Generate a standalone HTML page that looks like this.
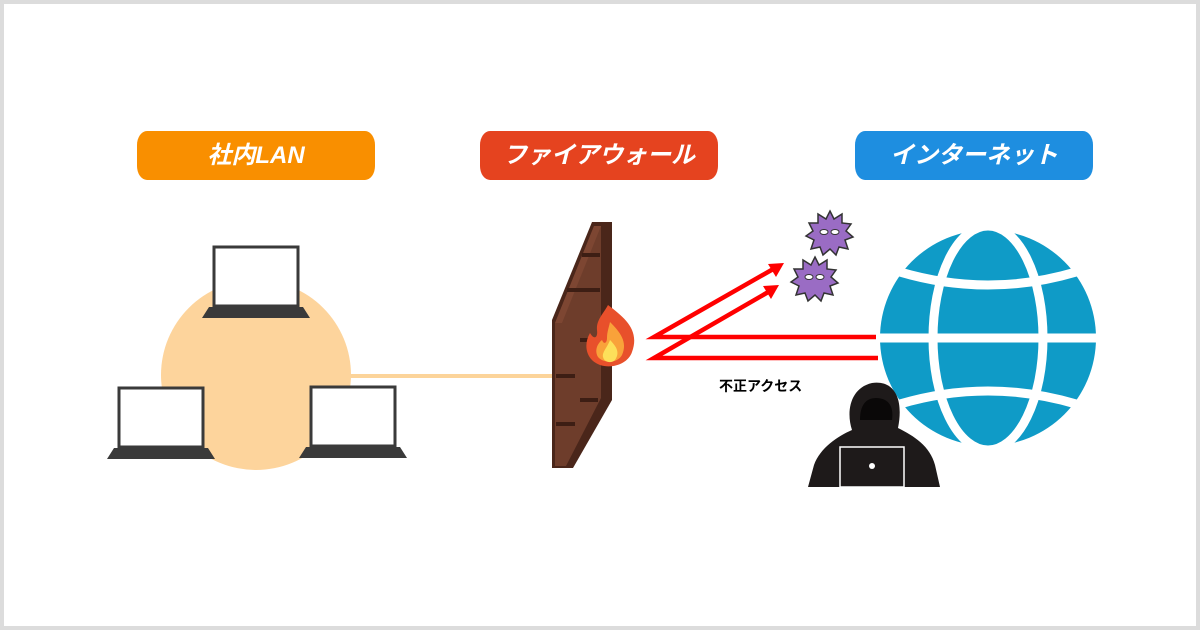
<!DOCTYPE html>
<html><head><meta charset="utf-8"><style>
html,body{margin:0;padding:0;background:#fff}
.wrap{position:relative;width:1200px;height:630px;box-sizing:border-box;border:4px solid #dcdcdc;background:#fff;overflow:hidden}
.pill{position:absolute;top:127px;height:49px;width:238px;border-radius:10px/14px;color:#fff;font:italic bold 24px "Liberation Sans","Noto Sans CJK JP",sans-serif;text-align:center;line-height:49px}
svg{position:absolute;left:-4px;top:-4px}
</style></head><body><div class="wrap">
<svg width="1200" height="630" viewBox="0 0 1200 630">
<line x1="350" y1="376" x2="552" y2="376" stroke="#fcd49a" stroke-width="4"/>
<circle cx="256" cy="375" r="95" fill="#fdd49c"/>
<rect x="214" y="247" width="84" height="59" fill="#fff" stroke="#3a3a3a" stroke-width="3"/>
<polygon points="209,307 303,307 310,318 202,318" fill="#3a3a3a"/>
<rect x="119" y="388" width="84" height="59" fill="#fff" stroke="#3a3a3a" stroke-width="3"/>
<polygon points="114,448 208,448 215,459 107,459" fill="#3a3a3a"/>
<rect x="311" y="387" width="84" height="59" fill="#fff" stroke="#3a3a3a" stroke-width="3"/>
<polygon points="306,447 400,447 407,458 299,458" fill="#3a3a3a"/>
<!-- wall -->
<polygon points="552,320 592,222 612,222 612,400 573,468 552,468" fill="#4a261a"/>
<polygon points="555,323 594,226 601,226 601,398 566,466 555,466" fill="#6e3d2b"/>
<polygon points="555,323 594,226 601,226 562,323" fill="#7d4632"/>
<g stroke="#3d1e14" stroke-width="4">
<line x1="582" y1="255" x2="600" y2="255"/><line x1="567" y1="290" x2="600" y2="290"/>
<line x1="556" y1="376" x2="575" y2="376"/><line x1="556" y1="424" x2="575" y2="424"/>
<line x1="580" y1="340" x2="600" y2="340"/><line x1="580" y1="400" x2="598" y2="400"/>
</g>
<!-- fire -->
<path d="M608,305 C625,318 640,330 632,352 C628,364 612,369 600,365 C586,360 583,345 590,333 C594,340 598,338 597,330 C596,320 604,313 608,305Z" fill="#e8502b"/>
<path d="M610,322 C620,332 628,342 622,355 C618,363 604,364 598,357 C594,350 598,343 602,340 C604,345 607,343 607,338 C607,332 609,327 610,322Z" fill="#f9a23a"/>
<path d="M610,340 C617,347 620,353 615,360 C611,364 604,362 603,357 C602,352 607,348 610,340Z" fill="#fde05a"/>
<!-- arrows -->
<g stroke="#f00" stroke-width="4.5" fill="none">
<polyline points="878,337 654,337 775,268"/>
<polyline points="878,358 654,358 770,291"/>
</g>
<polygon points="784,263 768,264 776,277" fill="#f00"/>
<polygon points="779,285 763,286 771,299" fill="#f00"/>
<!-- viruses -->
<g fill="#9a6cc4" stroke="#333" stroke-width="1.5">
<polygon points="830,211 834,219 842,214 842,223 851,224 846,231 853,237 845,240 848,249 839,247 836,255 830,249 823,255 820,247 811,249 814,240 806,236 813,231 809,223 818,223 818,214 826,219"/>
<polygon points="815,257 819,265 827,260 827,269 836,270 831,277 838,283 830,286 833,295 824,293 821,301 815,295 808,301 805,293 796,295 799,286 791,282 798,277 794,269 803,269 803,260 811,265"/>
</g>
<g fill="#fff" stroke="#333" stroke-width="1"><ellipse cx="824" cy="232" rx="4" ry="2.5"/><ellipse cx="835" cy="232" rx="4" ry="2.5"/><ellipse cx="809" cy="277" rx="4" ry="2.5"/><ellipse cx="820" cy="277" rx="4" ry="2.5"/></g>
<!-- globe -->
<circle cx="988" cy="338" r="108" fill="#0f9bc7"/>
<g stroke="#fff" stroke-width="9" fill="none">
<line x1="876" y1="338" x2="1100" y2="338"/>
<path d="M900,272 Q988,298 1076,272"/>
<path d="M900,404 Q988,378 1076,404"/>
<ellipse cx="988" cy="338" rx="55" ry="112"/>
</g>
<!-- hacker -->
<path d="M808,487 L814,465 C820,448 838,436 852,430 C846,412 850,388 872,383 C894,380 904,398 898,428 C914,436 930,446 935,465 L940,487Z" fill="#1e1a1a"/>
<path d="M860,420 C860,405 866,398 876,398 C888,398 894,406 892,420 Z" fill="#0a0808"/>
<rect x="840" y="447" width="64" height="40" fill="#1e1a1a" stroke="#fff" stroke-width="1.5"/>
<circle cx="872" cy="466" r="3" fill="#fff"/>
</svg>
<div class="pill" style="left:133px;background:#f98f00">社内LAN</div>
<div class="pill" style="left:476px;background:#e5431f">ファイアウォール</div>
<div class="pill" style="left:851px;background:#1e8ee0">インターネット</div>
<div style="position:absolute;left:715px;top:372px;font:bold 14px 'Liberation Sans','Noto Sans CJK JP',sans-serif;color:#000">不正アクセス</div>
</div></body></html>
